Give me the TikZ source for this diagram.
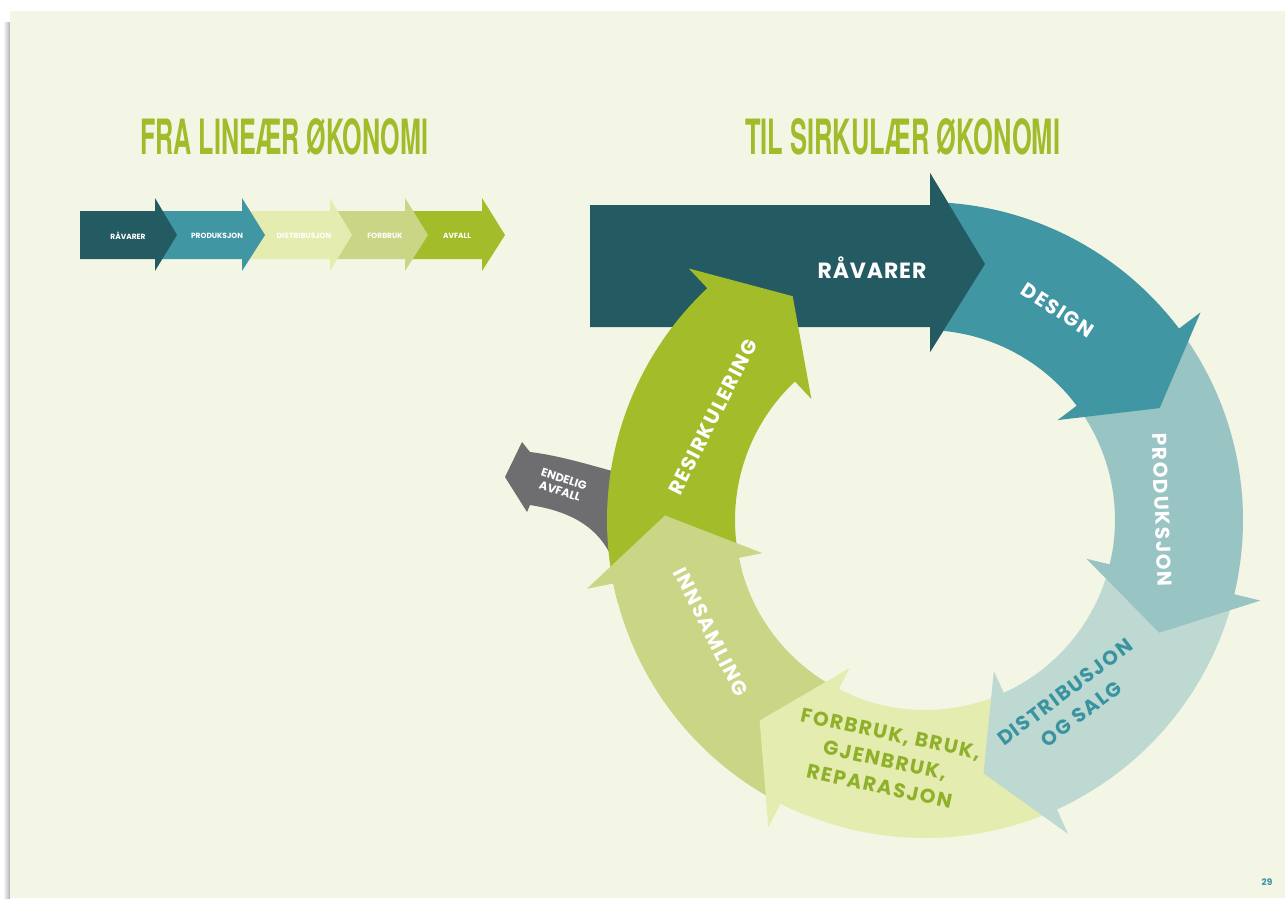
\documentclass[tikz,border=0pt]{standalone}
\usepackage{fontspec}
\setmainfont{Poppins}
\newfontfamily\headfont{TeX Gyre Heros}
\usetikzlibrary{calc}

\definecolor{pagebg}{HTML}{F3F6E4}
\definecolor{cDark}{HTML}{245B63}
\definecolor{cTeal}{HTML}{4096A2}
\definecolor{cTealLight}{HTML}{98C4C3}
\definecolor{cTealPale}{HTML}{BED9D2}
\definecolor{cYellowPale}{HTML}{E5ECAF}
\definecolor{cOlive}{HTML}{CAD585}
\definecolor{cGreen}{HTML}{A2BC2A}
\definecolor{cGray}{HTML}{6E6D70}
\definecolor{cTxtTeal}{HTML}{3A93A0}
\definecolor{cTxtGreen}{HTML}{8FB02A}
\definecolor{cTitle}{HTML}{A0BC2B}

\tikzset{
  chaintxt/.style={text=white, font=\bfseries\fontsize{7.5}{9}\selectfont, inner sep=0pt},
  ringtxt/.style={text=white, font=\bfseries\fontsize{20}{27}\selectfont\addfontfeature{LetterSpace=8}, inner sep=0pt},
  titletxt/.style={text=cTitle, inner sep=0pt, anchor=base west}
}

% straight arrow of the linear chain: colour, body start, head base, tip
\newcommand\chainarrow[4]{%
  \fill[#1] (#2,-211) -- (#3,-211) -- (#3,-198) -- (#4,-235) -- (#3,-271)
    -- (#3,-259) -- (#2,-259) -- cycle;}

% curved ring arrow: colour, start angle, head base angle, tip angle
\newcommand\ringarrow[4]{%
  \fill[#1] ($(C)+(#2:318)$) arc[start angle=#2, end angle=#3, radius=318]
    -- ($(C)+(#3:345)$) -- ($(C)+(#4:260)$) -- ($(C)+(#3:166)$)
    -- ($(C)+(#3:190)$) arc[start angle=#3, end angle=#2, radius=190] -- cycle;}

\begin{document}
\begin{tikzpicture}[x=1pt,y=1pt]
\useasboundingbox (0,0) rectangle (1285,-898);
\fill[white] (0,0) rectangle (1285,-898);
% page with its shadow
\shade[left color=white, right color=black!30] (3,-22) rectangle (10,-898);
\fill[pagebg] (10,-11) rectangle (1285,-898);

% titles
\node[titletxt] (title1) at (140,-154)
  {\resizebox{288pt}{36pt}{\headfont\bfseries FRA LINEÆR ØKONOMI}};
\node[titletxt] (title2) at (745,-154)
  {\resizebox{315pt}{36pt}{\headfont\bfseries TIL SIRKULÆR ØKONOMI}};

% linear economy chain
\chainarrow{cGreen}{407}{482}{505}
\chainarrow{cOlive}{332}{405}{428}
\chainarrow{cYellowPale}{244}{330}{352}
\chainarrow{cTeal}{157}{242}{265}
\chainarrow{cDark}{80}{155}{177}
\node[chaintxt] (c1) at (128,-236) {RÅVARER};
\node[chaintxt] (c2) at (217,-236) {PRODUKSJON};
\node[chaintxt] (c3) at (304,-236) {DISTRIBUSJON};
\node[chaintxt] (c4) at (385,-236) {FORBRUK};
\node[chaintxt] (c5) at (457,-236) {AVFALL};

% circular economy
\coordinate (C) at (925,-520);
\fill[cDark] (590,-205) -- (930,-205) -- (930,-173) -- (985,-264)
  -- (930,-352) -- (930,-327) -- (590,-327) -- cycle;

% residual waste leaving the loop
\fill[cGray] (650,-470) -- (612,-471) .. controls (580,-462) and (555,-455) .. (530,-452)
  -- (522,-442) -- (505,-477) -- (527,-512) -- (530,-505)
  .. controls (575,-512) and (602,-530) .. (615,-565) -- (650,-565) -- cycle;

\ringarrow{cGreen}{195}{133.2}{120.6}
\ringarrow{cOlive}{-112}{-168.5}{-181}
\ringarrow{cYellowPale}{-62}{-117}{-129.5}
\ringarrow{cTealPale}{-10}{-65.5}{-77}
\ringarrow{cTealLight}{40}{-13.5}{-25.7}
\ringarrow{cTeal}{88}{37}{25.5}
% head of the raw-material arrow lies over the start of the ring
\fill[cDark] (930,-173) -- (985,-264) -- (930,-352) -- cycle;

\node[ringtxt, font=\bfseries\fontsize{22}{26}\selectfont\addfontfeature{LetterSpace=4}] (raavarer) at (872,-268) {RÅVARER};
\node[ringtxt, rotate=-33] (design) at (1058,-310) {DESIGN};
\node[ringtxt, rotate=-88] (produksjon) at (1162,-510) {PRODUKSJON};
\node[ringtxt, text=cTxtTeal, rotate=37, align=center] (distribusjon) at (1073,-703)
  {DISTRIBUSJON\\OG SALG};
\node[ringtxt, text=cTxtGreen, rotate=-12, align=center] (forbruk) at (885,-760)
  {FORBRUK, BRUK,\\GJENBRUK,\\REPARASJON};
\node[ringtxt, rotate=-63] (innsamling) at (711,-632) {INNSAMLING};
\node[ringtxt, rotate=63] (resirkulering) at (713,-417) {RESIRKULERING};
\node[text=white, font=\bfseries\fontsize{11.5}{13}\selectfont, inner sep=0pt,
  rotate=-18, align=center] (endelig) at (562,-485) {ENDELIG\\AVFALL};

% page number
\node[text=cTxtTeal, font=\bfseries\fontsize{9}{10}\selectfont, inner sep=0pt] (page) at (1267,-882) {29};
\end{tikzpicture}
\end{document}
